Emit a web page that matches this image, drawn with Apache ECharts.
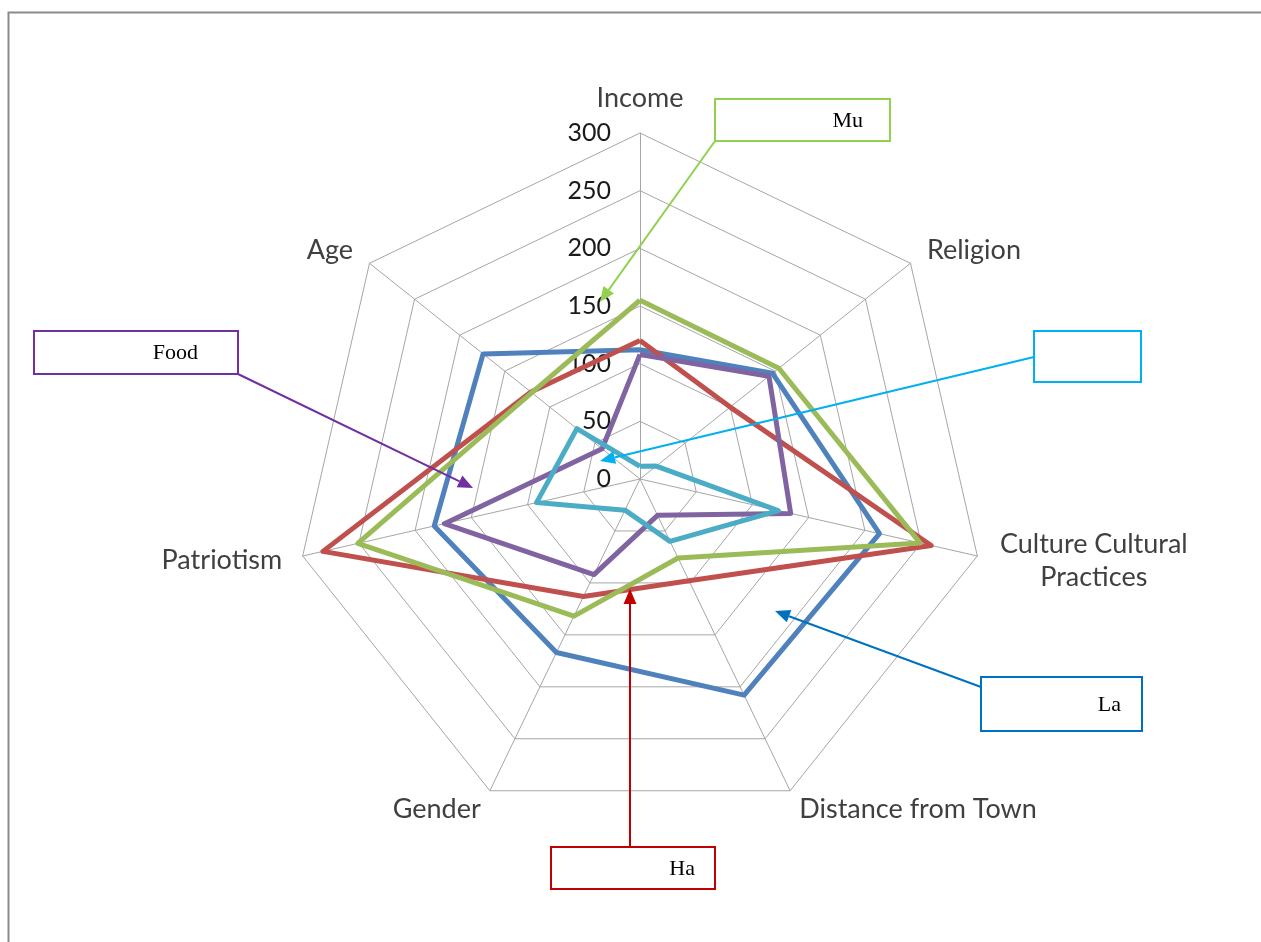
<!DOCTYPE html>
<html>
<head>
<meta charset="utf-8">
<style>
  html, body { margin: 0; padding: 0; background: #fff; }
  #main { width: 1261px; height: 942px; }
</style>
<script src="https://cdn.jsdelivr.net/npm/echarts@6/dist/echarts.min.js"></script>
</head>
<body>
<div id="main"></div>
<script>
// axes, clockwise from the top
let axisNames = ['Income', 'Religion', 'Culture Cultural Practices', 'Distance from Town', 'Gender', 'Patriotism', 'Age'];
let axisMax = 300;

// values, same order as axisNames
let laData = [112, 147, 213, 208, 167, 183, 174];
let haData = [120, 100, 259, 98, 113, 282, 121];
let muData = [155, 154, 249, 76, 132, 251, 120];
let foodData = [108, 143, 134, 35, 92, 174, 42];
let fifthData = [11, 18, 123, 60, 30, 92, 70];

let seriesNames = ['La', 'Ha', 'Mu', 'Food', ''];
let seriesColors = ['#4F81BD', '#C0504D', '#9BBB59', '#8064A2', '#4BACC6'];

// echarts lays radar axes out counter-clockwise, so walk the list backwards after the first
let order = [0, 6, 5, 4, 3, 2, 1];
function reorder(arr) {
  return order.map(function (k) { return arr[k]; });
}

let chartDom = document.getElementById('main');
let myChart = echarts.init(chartDom);
let option;

// arrow from the callout box into the chart
function arrow(x1, y1, x2, y2, color) {
  let dx = x2 - x1, dy = y2 - y1;
  let len = Math.sqrt(dx * dx + dy * dy);
  let ux = dx / len, uy = dy / len;
  let hl = 15, hw = 6.5;
  let bx = x2 - ux * hl, by = y2 - uy * hl;
  return [
    {
      type: 'line',
      shape: { x1: x1, y1: y1, x2: bx, y2: by },
      style: { stroke: color, lineWidth: 2 },
      z: 100
    },
    {
      type: 'polygon',
      shape: { points: [[x2, y2], [bx - uy * hw, by + ux * hw], [bx + uy * hw, by - ux * hw]] },
      style: { fill: color },
      z: 100
    }
  ];
}

function callout(box, label, textRight, color) {
  let els = [
    {
      type: 'rect',
      shape: { x: box[0], y: box[1], width: box[2], height: box[3] },
      style: { fill: '#fff', stroke: color, lineWidth: 2 },
      z: 100
    }
  ];
  if (label) {
    els.push({
      type: 'text',
      x: textRight,
      y: box[1] + box[3] / 2 + 1,
      style: {
        text: label,
        font: '22px "Liberation Serif"',
        fill: '#000',
        align: 'right',
        verticalAlign: 'middle'
      },
      z: 101
    });
  }
  return els;
}

let graphics = [
  {
    type: 'rect',
    shape: { x: 8.5, y: 12.5, width: 1400, height: 1100 },
    style: { fill: null, stroke: '#8a8a8a', lineWidth: 2 },
    silent: true
  }
];
graphics = graphics
  .concat(arrow(715, 141, 600, 302, '#92D050'))
  .concat(callout([715, 99, 175, 42], 'Mu', 863, '#92D050'))
  .concat(arrow(1034, 357, 600, 461, '#00B0F0'))
  .concat(callout([1034, 331, 107, 51], '', 0, '#00B0F0'))
  .concat(arrow(238, 374, 473, 488, '#7030A0'))
  .concat(callout([34, 331, 204, 43], 'Food', 198, '#7030A0'))
  .concat(arrow(981, 687, 775, 611, '#0070C0'))
  .concat(callout([981, 677, 161, 54], 'La', 1121, '#0070C0'))
  .concat(arrow(630, 847, 630, 589, '#C00000'))
  .concat(callout([551, 847, 164, 42], 'Ha', 695, '#C00000'));

let allData = [laData, haData, muData, foodData, fifthData];

option = {
  animation: false,
  backgroundColor: '#fff',
  radar: {
    center: [640, 479],
    radius: 346,
    startAngle: 90,
    shape: 'polygon',
    splitNumber: 6,
    nameGap: 21,
    indicator: reorder(axisNames).map(function (n, i) {
      let ind = { name: n, max: axisMax, min: 0 };
      if (i === 0) {
        ind.axisLabel = {
          show: true,
          color: '#1a1a1a',
          fontSize: 25,
          fontFamily: 'Lato',
          margin: 29,
          padding: [5, 0, 0, 0]
        };
      }
      return ind;
    }),
    axisName: {
      color: '#404040',
      fontSize: 27,
      fontFamily: 'Lato',
      formatter: function (name) {
        if (name === 'Culture Cultural Practices') {
          return '{c|Culture Cultural}\n{c|Practices}';
        }
        return name;
      },
      rich: {
        c: {
          width: 192,
          align: 'center',
          color: '#404040',
          fontSize: 27,
          fontFamily: 'Lato',
          lineHeight: 33
        }
      }
    },
    axisLabel: { show: false },
    axisTick: { show: false },
    axisLine: { lineStyle: { color: '#a6a6a6', width: 1 } },
    splitLine: { lineStyle: { color: '#a6a6a6', width: 1 } },
    splitArea: { show: false }
  },
  graphic: graphics,
  series: [
    {
      type: 'radar',
      symbol: 'none',
      data: allData.map(function (d, i) {
        return {
          name: seriesNames[i],
          value: reorder(d),
          lineStyle: { color: seriesColors[i], width: 5 },
          itemStyle: { color: seriesColors[i] }
        };
      })
    }
  ]
};

myChart.setOption(option);
</script>
</body>
</html>
